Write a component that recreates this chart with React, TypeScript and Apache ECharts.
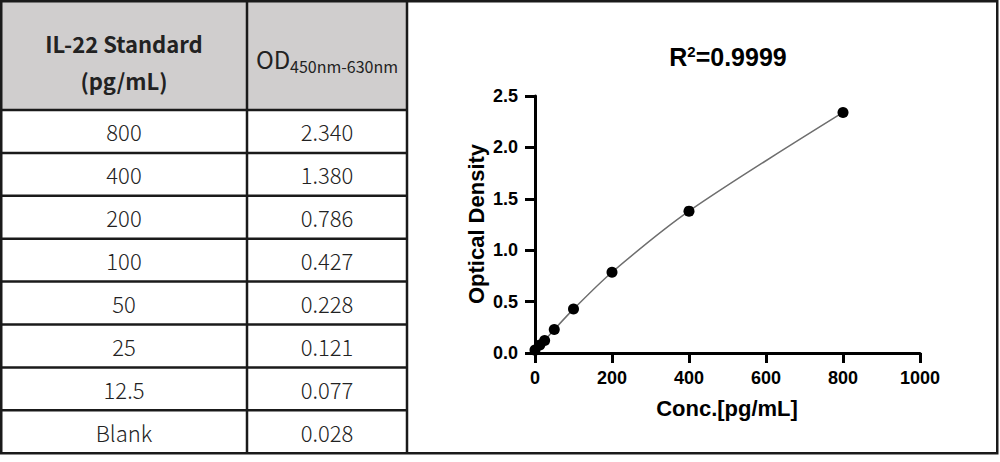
import React, { useEffect, useRef } from "react";
import * as echarts from "echarts";

const standards = ["800", "400", "200", "100", "50", "25", "12.5", "Blank"];
const concentrations = [800, 400, 200, 100, 50, 25, 12.5, 0];
const odValues = [2.34, 1.38, 0.786, 0.427, 0.228, 0.121, 0.077, 0.028];
const headerLeft = "IL-22 Standard\n(pg/mL)";
const headerOD = "OD";
const headerSub = "450nm-630nm";
const chartTitle = "R{sup|2}=0.9999";
const yAxisName = "Optical Density";
const xAxisName = "Conc.[pg/mL]";

export default function App() {
  const ref = useRef<HTMLDivElement>(null);
  useEffect(() => {
    document.body.style.margin = "0";
    const chart = echarts.init(ref.current!, null, { renderer: "svg" });
    const points = concentrations
      .map((c, i) => [c, odValues[i]])
      .sort((a, b) => a[0] - b[0]);

    const tableTop = 110;
    const rowH = 42.9;
    const col1 = 247;
    const col2 = 407;
    const lineColor = "#1a1a1a";
    const cjk = "'Noto Sans CJK SC', 'Noto Sans', sans-serif";
    const arial = "'Liberation Sans', Arial, sans-serif";

    const graphics: any[] = [
      { type: "rect", shape: { x: 1, y: 1, width: 405, height: 109 }, style: { fill: "#d0cece" }, z: 0 },
      { type: "rect", shape: { x: 1.25, y: 1.25, width: 996, height: 452 }, style: { fill: "none", stroke: lineColor, lineWidth: 2.5 }, z: 10 },
      { type: "line", shape: { x1: col1, y1: 1, x2: col1, y2: 453 }, style: { stroke: lineColor, lineWidth: 2.5 }, z: 10 },
      { type: "line", shape: { x1: col2, y1: 1, x2: col2, y2: 453 }, style: { stroke: lineColor, lineWidth: 2.5 }, z: 10 },
      {
        type: "text", x: 124, y: 61, z: 11,
        style: { text: headerLeft, font: `bold 22px ${cjk}`, fill: "#222", align: "center", verticalAlign: "middle", lineHeight: 37 },
      },
      {
        type: "text", x: 256, y: 58, z: 11,
        style: { text: headerOD, font: `24px ${cjk}`, fill: "#222", align: "left", verticalAlign: "middle" },
      },
      {
        type: "text", x: 290, y: 66, z: 11,
        style: { text: headerSub, font: `16px ${cjk}`, fill: "#222", align: "left", verticalAlign: "middle" },
      },
    ];
    standards.forEach((s, i) => {
      const y = tableTop + rowH * i;
      graphics.push({ type: "line", shape: { x1: 1, y1: y, x2: col2, y2: y }, style: { stroke: lineColor, lineWidth: 2.5 }, z: 10 });
      graphics.push({
        type: "text", x: 124, y: y + rowH / 2, z: 11,
        style: { text: s, font: `300 22px ${cjk}`, fill: "#222", align: "center", verticalAlign: "middle" },
      });
      graphics.push({
        type: "text", x: 327, y: y + rowH / 2, z: 11,
        style: { text: odValues[i].toFixed(3), font: `300 22px ${cjk}`, fill: "#222", align: "center", verticalAlign: "middle" },
      });
    });
    graphics.push({
      type: "text", x: 728, y: 57, z: 11,
      style: {
        text: chartTitle, font: `bold 25px ${arial}`, fill: "#000", align: "center", verticalAlign: "middle",
        rich: { sup: { fontSize: 15, fontWeight: "bold", fontFamily: arial, verticalAlign: "top", lineHeight: 27 } },
      },
    });
    graphics.push({
      type: "text", x: 476, y: 224, rotation: Math.PI / 2, z: 11,
      style: { text: yAxisName, font: `bold 22px ${arial}`, fill: "#000", align: "center", verticalAlign: "middle" },
    });
    graphics.push({
      type: "text", x: 727, y: 408, z: 11,
      style: { text: xAxisName, font: `bold 22px ${arial}`, fill: "#000", align: "center", verticalAlign: "middle" },
    });

    const axisCommon = {
      axisLine: { show: true, lineStyle: { color: "#000", width: 3 } },
      axisTick: { show: true, length: 10, lineStyle: { color: "#000", width: 3 } },
      splitLine: { show: false },
    };

    chart.setOption({
      animation: false,
      backgroundColor: "#fff",
      grid: { left: 535, right: 80, top: 96, bottom: 109, containLabel: false },
      xAxis: {
        type: "value", min: 0, max: 1000, interval: 200,
        ...axisCommon,
        axisLabel: {
          margin: 16, color: "#000", fontSize: 18, fontWeight: "bold", fontFamily: arial,
          formatter: (v: number) => String(v),
        },
      },
      yAxis: {
        type: "value", min: 0, max: 2.5, interval: 0.5,
        ...axisCommon,
        axisLabel: {
          margin: 17, color: "#000", fontSize: 18, fontWeight: "bold", fontFamily: arial,
          formatter: (v: number) => v.toFixed(1),
        },
      },
      graphic: graphics,
      series: [
        {
          type: "line", data: points, smooth: 0.3, showSymbol: false,
          lineStyle: { color: "#6e6e6e", width: 1.5 }, z: 2,
        },
        {
          type: "scatter", data: points, symbol: "circle", symbolSize: 11,
          itemStyle: { color: "#000", opacity: 1 }, z: 3,
        },
      ],
    });
    return () => chart.dispose();
  }, []);
  return <div ref={ref} style={{ position: "absolute", left: 0, top: 0, width: 1000, height: 462 }} />;
}
